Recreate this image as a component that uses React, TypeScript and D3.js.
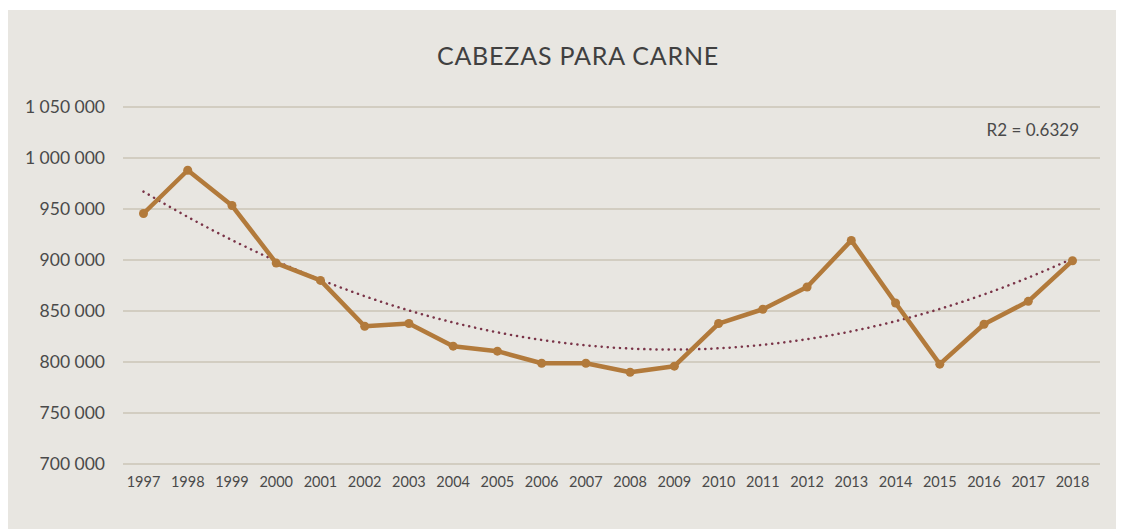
import React, { useEffect, useRef } from 'react';
import * as d3 from 'd3';

const years = [
  '1997', '1998', '1999', '2000', '2001', '2002', '2003', '2004', '2005', '2006', '2007',
  '2008', '2009', '2010', '2011', '2012', '2013', '2014', '2015', '2016', '2017', '2018',
];
const heads = [
  945600, 988000, 953400, 897000, 880000, 835000, 837700, 815500, 810600, 798800, 798800,
  790000, 795900, 837700, 851700, 873500, 919200, 857800, 797850, 837000, 859500, 899300,
];
const yTicks = [700000, 750000, 800000, 850000, 900000, 950000, 1000000, 1050000];
const title = 'CABEZAS PARA CARNE';
const r2Label = 'R2 = 0.6329';

const W = 1116;
const H = 521;

// least squares fit of a 2nd order polynomial (Excel "polynomial" trendline)
function quadFit(ys: number[]) {
  const s = [0, 0, 0, 0, 0];
  const t = [0, 0, 0];
  ys.forEach((v, i) => {
    const x = i + 1;
    for (let k = 0; k < 5; k++) s[k] += Math.pow(x, k);
    for (let k = 0; k < 3; k++) t[k] += v * Math.pow(x, k);
  });
  const m = [
    [s[0], s[1], s[2], t[0]],
    [s[1], s[2], s[3], t[1]],
    [s[2], s[3], s[4], t[2]],
  ];
  for (let c = 0; c < 3; c++) {
    for (let r = c + 1; r < 3; r++) {
      const f = m[r][c] / m[c][c];
      for (let k = c; k < 4; k++) m[r][k] -= f * m[c][k];
    }
  }
  const b = [0, 0, 0];
  for (let r = 2; r >= 0; r--) {
    let v = m[r][3];
    for (let k = r + 1; k < 3; k++) v -= m[r][k] * b[k];
    b[r] = v / m[r][r];
  }
  return (x: number) => b[0] + b[1] * x + b[2] * x * x;
}

const App: React.FC = () => {
  const svgRef = useRef<SVGSVGElement>(null);

  useEffect(() => {
    if (!svgRef.current) return;
    const svg = d3.select(svgRef.current);
    svg.selectAll('*').remove();

    const font = 'Lato, sans-serif';

    svg.append('rect')
      .attr('x', 0).attr('y', 2)
      .attr('width', W).attr('height', H - 2)
      .attr('fill', '#e8e6e1');

    const x = d3.scalePoint<string>().domain(years).range([135.5, 1064.5]);
    const y = d3.scaleLinear().domain([700000, 1050000]).range([456, 99]);

    // gridlines
    svg.append('g')
      .selectAll('line')
      .data(yTicks)
      .join('line')
      .attr('x1', 115).attr('x2', 1092)
      .attr('y1', d => y(d)).attr('y2', d => y(d))
      .attr('stroke', '#d2cdc1')
      .attr('stroke-width', 2);

    // y labels
    const fmt = (v: number) => d3.format(',')(v).replace(/,/g, ' ');
    svg.append('g')
      .selectAll('text')
      .data(yTicks)
      .join('text')
      .attr('x', 97)
      .attr('y', d => y(d) + 6)
      .attr('text-anchor', 'end')
      .style('font-family', font)
      .style('font-size', '17.5px')
      .style('white-space', 'pre')
      .style('fill', '#4a4a4a')
      .text(d => fmt(d));

    // x labels
    svg.append('g')
      .selectAll('text')
      .data(years)
      .join('text')
      .attr('x', d => x(d)!)
      .attr('y', 479)
      .attr('text-anchor', 'middle')
      .style('font-family', font)
      .style('font-size', '14.5px')
      .style('fill', '#4a4a4a')
      .text(d => d);

    // trendline
    const fit = quadFit(heads);
    const trend = d3.line<string>()
      .x(d => x(d)!)
      .y((_, i) => y(fit(i + 1)))
      .curve(d3.curveCatmullRom);
    svg.append('path')
      .datum(years)
      .attr('d', trend)
      .attr('fill', 'none')
      .attr('stroke', '#7a3448')
      .attr('stroke-width', 2.5)
      .attr('stroke-linecap', 'round')
      .attr('stroke-dasharray', '0.1 6');

    // series
    const line = d3.line<number>()
      .x((_, i) => x(years[i])!)
      .y(d => y(d));
    svg.append('path')
      .datum(heads)
      .attr('d', line)
      .attr('fill', 'none')
      .attr('stroke', '#b27a3b')
      .attr('stroke-width', 4.5)
      .attr('stroke-linejoin', 'round');

    svg.append('g')
      .selectAll('circle')
      .data(heads)
      .join('circle')
      .attr('cx', (_, i) => x(years[i])!)
      .attr('cy', d => y(d))
      .attr('r', 4.5)
      .attr('fill', '#b27a3b');

    svg.append('text')
      .attr('x', 570)
      .attr('y', 57)
      .attr('text-anchor', 'middle')
      .style('font-family', font)
      .style('font-size', '25px')
      .style('letter-spacing', '0.8px')
      .style('fill', '#404040')
      .text(title);

    svg.append('text')
      .attr('x', 1071)
      .attr('y', 128)
      .attr('text-anchor', 'end')
      .style('font-family', font)
      .style('font-size', '17px')
      .style('white-space', 'pre')
      .style('fill', '#4a4a4a')
      .text(r2Label);
  }, []);

  return <svg ref={svgRef} width={W} height={H} style={{ display: 'block' }} />;
};

export default App;
